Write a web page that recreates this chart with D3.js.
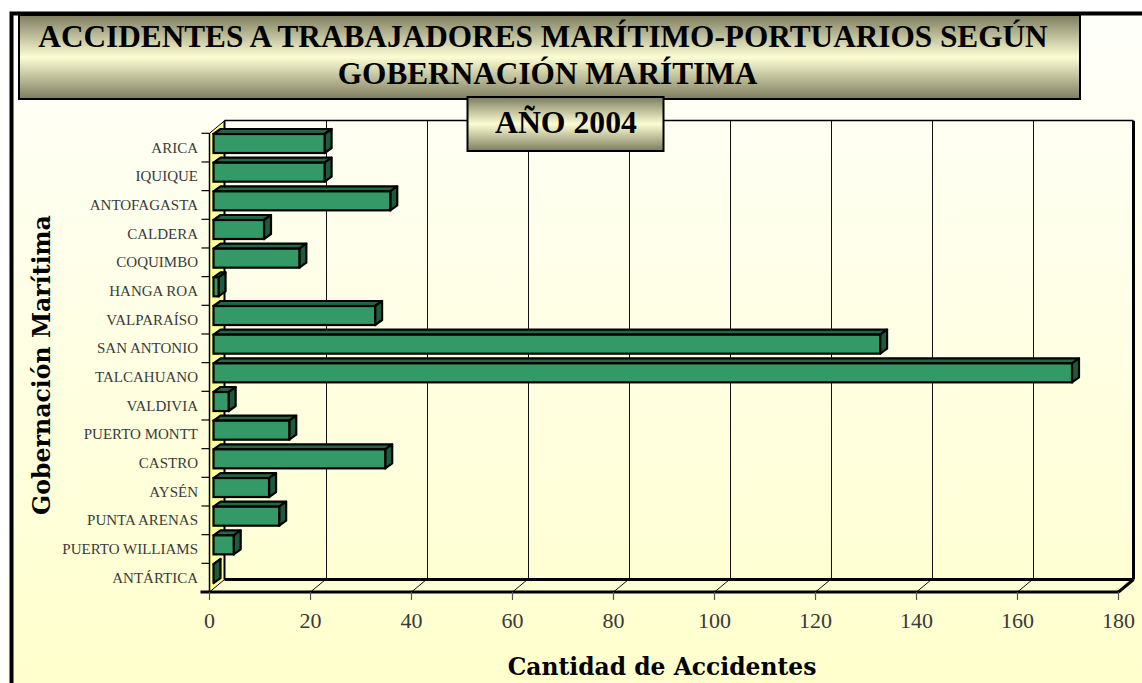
<!DOCTYPE html>
<html>
<head>
<meta charset="utf-8">
<script src="https://cdn.jsdelivr.net/npm/d3@7"></script>
<style>
  html, body { margin: 0; padding: 0; background: #fff; }
  svg { display: block; }
</style>
</head>
<body>
<div id="chart"></div>
<script>
// data
const categorias = ["ARICA", "IQUIQUE", "ANTOFAGASTA", "CALDERA", "COQUIMBO", "HANGA ROA",
  "VALPARAÍSO", "SAN ANTONIO", "TALCAHUANO", "VALDIVIA", "PUERTO MONTT", "CASTRO",
  "AYSÉN", "PUNTA ARENAS", "PUERTO WILLIAMS", "ANTÁRTICA"];
const accidentes = [22, 22, 35, 10, 17, 1, 32, 132, 170, 3, 15, 34, 11, 13, 4, 0];
const ticksX = [0, 20, 40, 60, 80, 100, 120, 140, 160, 180];
const titulo = ["ACCIDENTES A TRABAJADORES MARÍTIMO-PORTUARIOS SEGÚN", "GOBERNACIÓN MARÍTIMA"];
const subtitulo = "AÑO 2004";
const tituloX = "Cantidad de Accidentes";
const tituloY = "Gobernación Marítima";

const width = 1142;
const height = 683;
const depth = { dx: 15, dy: -12.5 };   // back wall offset
const barDepth = { off: 4, dx: 7, dy: -5 };

const svg = d3.select("#chart").append("svg")
  .attr("width", width)
  .attr("height", height);

const defs = svg.append("defs");
const bg = defs.append("linearGradient").attr("id", "bg")
  .attr("x1", 0).attr("y1", 0).attr("x2", 0).attr("y2", 1);
bg.append("stop").attr("offset", 0).attr("stop-color", "#fffffb");
bg.append("stop").attr("offset", 1).attr("stop-color", "#ffffcc");

const boxGrad = defs.append("linearGradient").attr("id", "box")
  .attr("x1", 0).attr("y1", 0).attr("x2", 0).attr("y2", 1);
boxGrad.append("stop").attr("offset", 0).attr("stop-color", "#7d7d60");
boxGrad.append("stop").attr("offset", 0.5).attr("stop-color", "#fdfdd3");
boxGrad.append("stop").attr("offset", 1).attr("stop-color", "#7d7d60");

// background + outer border
svg.append("rect").attr("x", 0).attr("y", 0).attr("width", width).attr("height", height)
  .attr("fill", "#fff");
svg.append("rect").attr("x", 12).attr("y", 14).attr("width", width).attr("height", height)
  .attr("fill", "url(#bg)");
svg.append("rect").attr("x", 11.5).attr("y", 13.5).attr("width", width + 20).attr("height", height + 20)
  .attr("fill", "none").attr("stroke", "#000").attr("stroke-width", 4);

// scales
const x = d3.scaleLinear().domain([0, 180]).range([209.5, 1118.5]);
const y = d3.scaleBand().domain(categorias).range([133.3, 592]);
const bw = y.bandwidth();
const y0 = y.range()[0], y1 = y.range()[1];
const x0 = x.range()[0], xEnd = x.range()[1];

const plot = svg.append("g");

// left wall
plot.append("polygon")
  .attr("points", [[x0, y0], [x0 + depth.dx, y0 + depth.dy], [x0 + depth.dx, y1 + depth.dy], [x0, y1]].join(" "))
  .attr("fill", "#ffff99")
  .attr("stroke", "#000").attr("stroke-width", 1);

// gridlines on back wall
plot.selectAll("line.grid")
  .data(ticksX.slice(1, -1))
  .join("line")
  .attr("class", "grid")
  .attr("x1", (d) => Math.round(x(d) + depth.dx) + 0.5).attr("x2", (d) => Math.round(x(d) + depth.dx) + 0.5)
  .attr("y1", y0 + depth.dy).attr("y2", y1 + depth.dy)
  .attr("stroke", "#111").attr("stroke-width", 1);

// floor diagonals
plot.selectAll("line.floor")
  .data(ticksX.slice(1, -1))
  .join("line")
  .attr("class", "floor")
  .attr("x1", (d) => x(d)).attr("x2", (d) => x(d) + depth.dx)
  .attr("y1", y1).attr("y2", y1 + depth.dy)
  .attr("stroke", "#111").attr("stroke-width", 1);

// back wall edges
plot.append("line")
  .attr("x1", x0 + depth.dx).attr("x2", xEnd + depth.dx)
  .attr("y1", 120.5).attr("y2", 120.5)
  .attr("stroke", "#000").attr("stroke-width", 1.5);
plot.append("line")
  .attr("x1", x0 + depth.dx).attr("x2", x0 + depth.dx)
  .attr("y1", y0 + depth.dy).attr("y2", y1 + depth.dy)
  .attr("stroke", "#000").attr("stroke-width", 2);
plot.append("line")
  .attr("x1", xEnd + depth.dx).attr("x2", xEnd + depth.dx)
  .attr("y1", y0 + depth.dy).attr("y2", y1 + depth.dy)
  .attr("stroke", "#000").attr("stroke-width", 3);
plot.append("line")
  .attr("x1", x0 + depth.dx).attr("x2", xEnd + depth.dx)
  .attr("y1", y1 + depth.dy).attr("y2", y1 + depth.dy)
  .attr("stroke", "#000").attr("stroke-width", 3);
plot.append("line")
  .attr("x1", xEnd).attr("x2", xEnd + depth.dx)
  .attr("y1", y1).attr("y2", y1 + depth.dy)
  .attr("stroke", "#000").attr("stroke-width", 3);

// bars
const bars = plot.append("g").selectAll("g")
  .data(categorias.map((c, i) => ({ cat: c, val: accidentes[i] })))
  .join("g");

const faceTop = (d) => y(d.cat) + 0.7;
const faceH = 19;
const xl = barDepth.off + x(0);
const xr = (d) => x(d.val) + barDepth.off;

bars.append("polygon")
  .attr("points", (d) => [[xl, faceTop(d)], [xl + barDepth.dx, faceTop(d) + barDepth.dy],
    [xr(d) + barDepth.dx, faceTop(d) + barDepth.dy], [xr(d), faceTop(d)]].join(" "))
  .attr("fill", "#236845").attr("stroke", "#000").attr("stroke-width", 2.2)
  .attr("stroke-linejoin", "round");
bars.append("polygon")
  .attr("points", (d) => [[xr(d), faceTop(d)], [xr(d) + barDepth.dx, faceTop(d) + barDepth.dy],
    [xr(d) + barDepth.dx, faceTop(d) + faceH + barDepth.dy], [xr(d), faceTop(d) + faceH]].join(" "))
  .attr("fill", "#1e5a3c").attr("stroke", "#000").attr("stroke-width", 2.2)
  .attr("stroke-linejoin", "round");
bars.filter((d) => d.val > 0).append("rect")
  .attr("x", xl).attr("y", faceTop)
  .attr("width", (d) => xr(d) - xl).attr("height", faceH)
  .attr("fill", "#339966").attr("stroke", "#000").attr("stroke-width", 2.2);

// front axes
const axes = svg.append("g");
axes.append("line")
  .attr("x1", x0).attr("x2", x0).attr("y1", y0).attr("y2", y1)
  .attr("stroke", "#000").attr("stroke-width", 1.5);
axes.append("line")
  .attr("x1", x0 - 9).attr("x2", xEnd).attr("y1", y1).attr("y2", y1)
  .attr("stroke", "#000").attr("stroke-width", 3);
axes.selectAll("line.ytick")
  .data(categorias)
  .join("line")
  .attr("class", "ytick")
  .attr("x1", x0 - 8).attr("x2", x0)
  .attr("y1", (d) => y(d)).attr("y2", (d) => y(d))
  .attr("stroke", "#000").attr("stroke-width", 1.2);
axes.selectAll("line.xtick")
  .data(ticksX)
  .join("line")
  .attr("class", "xtick")
  .attr("x1", (d) => x(d)).attr("x2", (d) => x(d))
  .attr("y1", y1).attr("y2", y1 + 8)
  .attr("stroke", "#555").attr("stroke-width", 1.2);

axes.selectAll("text.ylab")
  .data(categorias)
  .join("text")
  .attr("class", "ylab")
  .attr("x", 198)
  .attr("y", (d) => y(d) + bw / 2 + 5)
  .attr("text-anchor", "end")
  .attr("font-family", "Liberation Serif, serif")
  .attr("font-size", 15)
  .attr("fill", "#3a3a3a")
  .text((d) => d);

axes.selectAll("text.xlab")
  .data(ticksX)
  .join("text")
  .attr("class", "xlab")
  .attr("x", (d) => x(d))
  .attr("y", 628)
  .attr("text-anchor", "middle")
  .attr("font-family", "Liberation Serif, serif")
  .attr("font-size", 22)
  .attr("fill", "#3a3a3a")
  .text((d) => d);

// fit a text node to a target width by changing its font size
const fit = (sel, target) => {
  const w = sel.node().getComputedTextLength();
  const fs = parseFloat(sel.attr("font-size"));
  sel.attr("font-size", (fs * target) / w);
};

// axis titles
const xt = svg.append("text")
  .attr("x", 662).attr("y", 675)
  .attr("text-anchor", "middle")
  .attr("font-family", "DejaVu Serif, serif").attr("font-weight", "bold")
  .attr("font-size", 20).attr("fill", "#000")
  .text(tituloX);
fit(xt, 309);

const yt = svg.append("text")
  .attr("transform", "translate(50,365) rotate(-90)")
  .attr("text-anchor", "middle")
  .attr("font-family", "DejaVu Serif, serif").attr("font-weight", "bold")
  .attr("font-size", 20).attr("fill", "#000")
  .text(tituloY);
fit(yt, 300);

// title box
svg.append("rect")
  .attr("x", 19).attr("y", 15).attr("width", 1061).attr("height", 84)
  .attr("fill", "url(#box)").attr("stroke", "#000").attr("stroke-width", 2);
const t1 = svg.append("text")
  .attr("x", 543).attr("y", 46.5).attr("text-anchor", "middle")
  .attr("font-family", "Liberation Serif, serif").attr("font-weight", "bold")
  .attr("font-size", 29).attr("fill", "#000")
  .text(titulo[0]);
fit(t1, 1010);
const t2 = svg.append("text")
  .attr("x", 547.5).attr("y", 84).attr("text-anchor", "middle")
  .attr("font-family", "Liberation Serif, serif").attr("font-weight", "bold")
  .attr("font-size", t1.attr("font-size")).attr("fill", "#000")
  .text(titulo[1]);

// year box
svg.append("rect")
  .attr("x", 467.5).attr("y", 97).attr("width", 196).attr("height", 54)
  .attr("fill", "url(#box)").attr("stroke", "#000").attr("stroke-width", 2);
const t3 = svg.append("text")
  .attr("x", 566).attr("y", 133).attr("text-anchor", "middle")
  .attr("font-family", "Liberation Serif, serif").attr("font-weight", "bold")
  .attr("font-size", 29).attr("fill", "#000")
  .text(subtitulo);
fit(t3, 142);
</script>
</body>
</html>
